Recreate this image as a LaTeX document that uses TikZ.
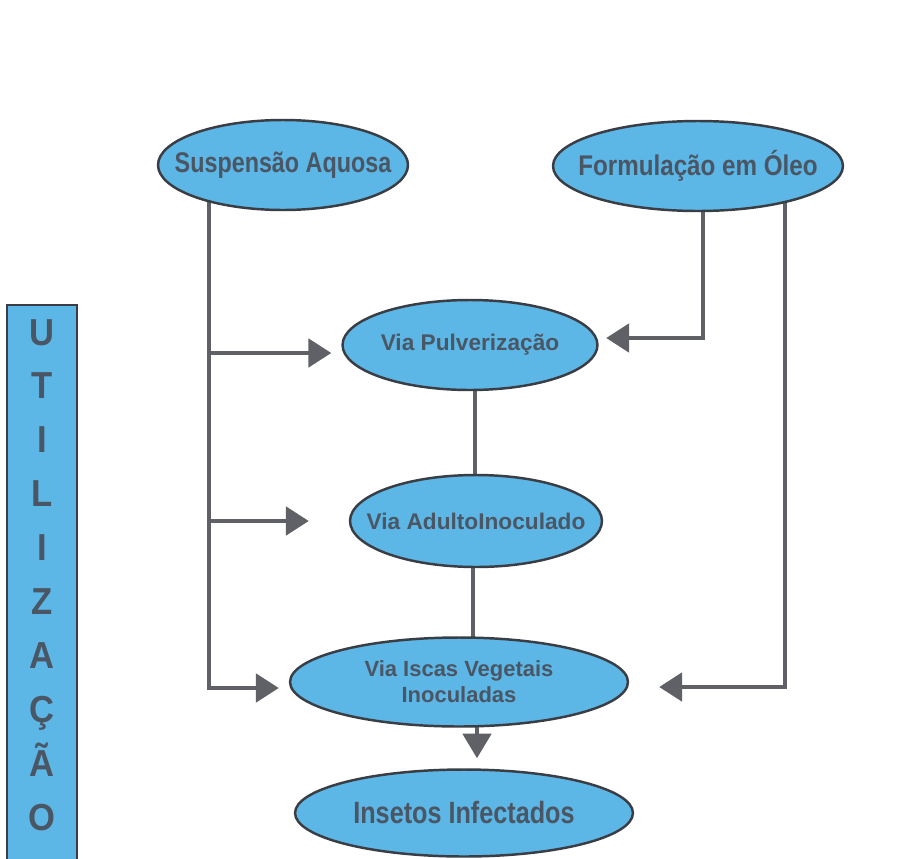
\documentclass[tikz,border=0pt]{standalone}
\usepackage{fontspec}
\setmainfont{Liberation Sans}
\newfontfamily\condfont[FakeStretch=0.82]{Liberation Sans}
\newfontfamily\semicondfont[FakeStretch=0.85]{Liberation Sans}
\newfontfamily\barfont[FakeStretch=0.92]{Liberation Sans}
\usetikzlibrary{shapes.geometric,arrows.meta,backgrounds}
\definecolor{bubble}{RGB}{92,182,230}
\definecolor{rim}{RGB}{58,62,68}
\definecolor{ink}{RGB}{74,86,100}
\definecolor{wire}{RGB}{95,97,102}
\begin{document}
\begin{tikzpicture}[x=0.02cm,y=-0.02cm,
  bub/.style={ellipse, draw=rim, line width=1.4pt, fill=bubble, inner sep=0pt},
  txt/.style={text=ink, align=center, inner sep=0pt},
  bigtxt/.style={txt, font=\condfont\bfseries\fontsize{16.2}{18}\selectfont},
  midtxt/.style={txt, font=\bfseries\fontsize{12.9}{14.7}\selectfont},
  barletter/.style={text=ink, inner sep=0pt, font=\barfont\bfseries\fontsize{21.4}{22}\selectfont},
  wirestyle/.style={draw=wire, line width=2.5pt},
  arr/.style={wirestyle, -{Triangle[length=13pt,width=16pt]}},
  ]
\useasboundingbox (0,0) rectangle (903,859);

% side bar
\node[draw=rim, line width=1.4pt, fill=bubble, minimum width=1.4cm,
      minimum height=11.4cm, inner sep=0pt] (bar) at (42,590) {};
\foreach \ch [count=\i] in {U,T,I,L,I,Z,A,Ç,Ã,O}
  \node[barletter, anchor=base] (bl\i) at (42,{345+53.9*(\i-1)}) {\ch};

% ellipses
\node[bub, minimum width=5cm,    minimum height=1.8cm]  (susp) at (283,165) {};
\node[bigtxt] (suspT) at (susp) {Suspensão Aquosa};
\node[bub, minimum width=5.8cm,  minimum height=1.8cm]  (form) at (698,166) {};
\node[bigtxt, font=\semicondfont\bfseries\fontsize{16.2}{18}\selectfont] (formT) at (form) {Formulação em Óleo};
\node[bub, minimum width=5.1cm,  minimum height=1.8cm]  (pulv) at (470,345) {};
\node[midtxt] (pulvT) at (pulv) {Via Pulverização};
\node[bub, minimum width=5.04cm, minimum height=1.84cm] (adul) at (476,521) {};
\node[midtxt] (adulT) at (adul) {Via AdultoInoculado};
\node[bub, minimum width=6.76cm, minimum height=1.78cm] (isca) at (459,682) {};
\node[midtxt, font=\bfseries\fontsize{12.5}{14.7}\selectfont] (iscaT) at (isca) {Via Iscas Vegetais\\Inoculadas};
\node[bub, minimum width=6.76cm, minimum height=1.74cm] (inse) at (464,813) {};
\node[txt, font=\condfont\bfseries\fontsize{17.5}{19}\selectfont] (inseT) at (inse) {Insetos Infectados};

% connectors, kept behind the ellipses
\begin{pgfonlayer}{background}
  \fill[white] (0,0) rectangle (903,859);
  \coordinate (lx)  at (209,0);
  \coordinate (rx1) at (703,0);
  \coordinate (rx2) at (785,0);
  \coordinate (vx1) at (475,0);
  \coordinate (vx2) at (473,0);
  \coordinate (vx3) at (477,0);
  \coordinate (pA) at ([yshift=-0.16cm]pulv.west);
  \coordinate (pB) at ([yshift=0.14cm]pulv.east);
  \coordinate (iA) at ([yshift=-0.12cm]isca.west);
  \coordinate (iB) at ([yshift=-0.1cm]isca.east);

  \draw[arr, shorten >=0.2cm]  (susp.center -| lx) |- (iA);
  \draw[arr, shorten >=0.2cm]  (pA -| lx) -- (pA);
  \draw[arr, shorten >=0.8cm]  (adul.west -| lx) -- (adul.west);
  \draw[arr, shorten >=0.15cm] (form.center -| rx1) |- (pB);
  \draw[arr, shorten >=0.6cm]  (form.center -| rx2) |- (iB);
  \draw[wirestyle] (pulv.center -| vx1) -- (adul.center -| vx1);
  \draw[wirestyle] (adul.center -| vx2) -- (isca.center -| vx2);
  \draw[arr, -{Triangle[length=14pt,width=16pt]}, shorten >=0.2cm]
       (isca.center -| vx3) -- (inse.north -| vx3);
\end{pgfonlayer}
\end{tikzpicture}
\end{document}
